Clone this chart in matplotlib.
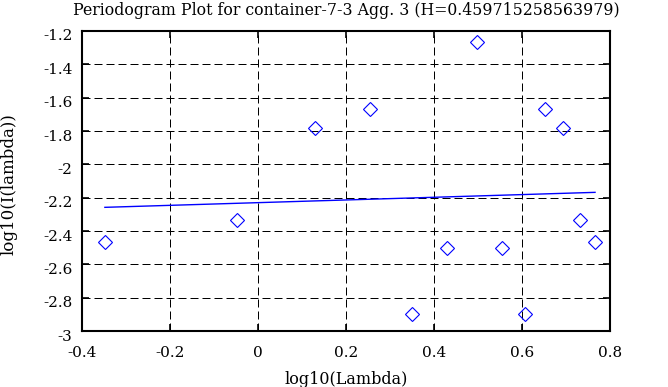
import numpy as np
import matplotlib
matplotlib.use("Agg")
import matplotlib.pyplot as plt
from matplotlib.ticker import FormatStrFormatter
from matplotlib.transforms import ScaledTranslation

# Daten aus dem Periodogramm
log_lambda = [-0.348, -0.047, 0.129, 0.254, 0.351, 0.430, 0.497,
              0.555, 0.606, 0.652, 0.694, 0.731, 0.766]
log_I = [-2.464, -2.334, -1.780, -1.670, -2.898, -2.502, -1.268,
         -2.502, -2.898, -1.670, -1.780, -2.334, -2.464]
x_ticks = [-0.4, -0.2, 0, 0.2, 0.4, 0.6, 0.8]
y_ticks = [-3, -2.8, -2.6, -2.4, -2.2, -2, -1.8, -1.6, -1.4, -1.2]
title = "Periodogram Plot for container-7-3 Agg. 3 (H=0.459715258563979)"

plt.rcParams['font.family'] = ['DejaVu Serif']
plt.rcParams['font.size'] = 11
plt.rcParams['axes.unicode_minus'] = False

fig = plt.figure(figsize=(6.68, 3.87), dpi=100)
ax = fig.add_axes([82/668, 56/387, 528/668, 300/387])

ax.plot(log_lambda, log_I, linestyle='none', marker='D', markersize=7,
        markerfacecolor='none', markeredgecolor='#0000ff', markeredgewidth=0.8)

# lineare Regression
slope, intercept = np.polyfit(log_lambda, log_I, 1)
fit_x = np.array([log_lambda[0], log_lambda[-1]])
ax.plot(fit_x, intercept + slope * fit_x, color='#0000ff', linewidth=1)

ax.set_xlim(-0.4, 0.8)
ax.set_ylim(-3, -1.2)
ax.set_xticks(x_ticks)
ax.set_yticks(y_ticks)
ax.xaxis.set_major_formatter(FormatStrFormatter('%g'))
ax.yaxis.set_major_formatter(FormatStrFormatter('%g'))

ax.grid(True, color='black', linewidth=0.72, linestyle=(0, (8, 4)))
ax.tick_params(direction='in', length=5, width=1.2, top=True, right=True,
               colors='black')
ax.tick_params(axis='y', pad=7)
ax.tick_params(axis='x', pad=10.5)
for sp in ax.spines.values():
    sp.set_linewidth(1.5)

shift = ScaledTranslation(0, -4/100, fig.dpi_scale_trans)
for lab in ax.get_yticklabels():
    lab.set_transform(lab.get_transform() + shift)

ax.set_title(title, pad=11.5, fontsize=11.3)
ax.set_xlabel("log10(Lambda)", fontsize=11.5)
ax.xaxis.label.set_va('baseline')
ax.xaxis.set_label_coords(0.5, (3 - 56) / 300)
ax.set_ylabel("log10(I(lambda))", fontsize=12)
ax.yaxis.label.set_va('center')
ax.yaxis.set_label_coords((9 - 82) / 528, 0.49)

fig.savefig("out.png", dpi=100)
